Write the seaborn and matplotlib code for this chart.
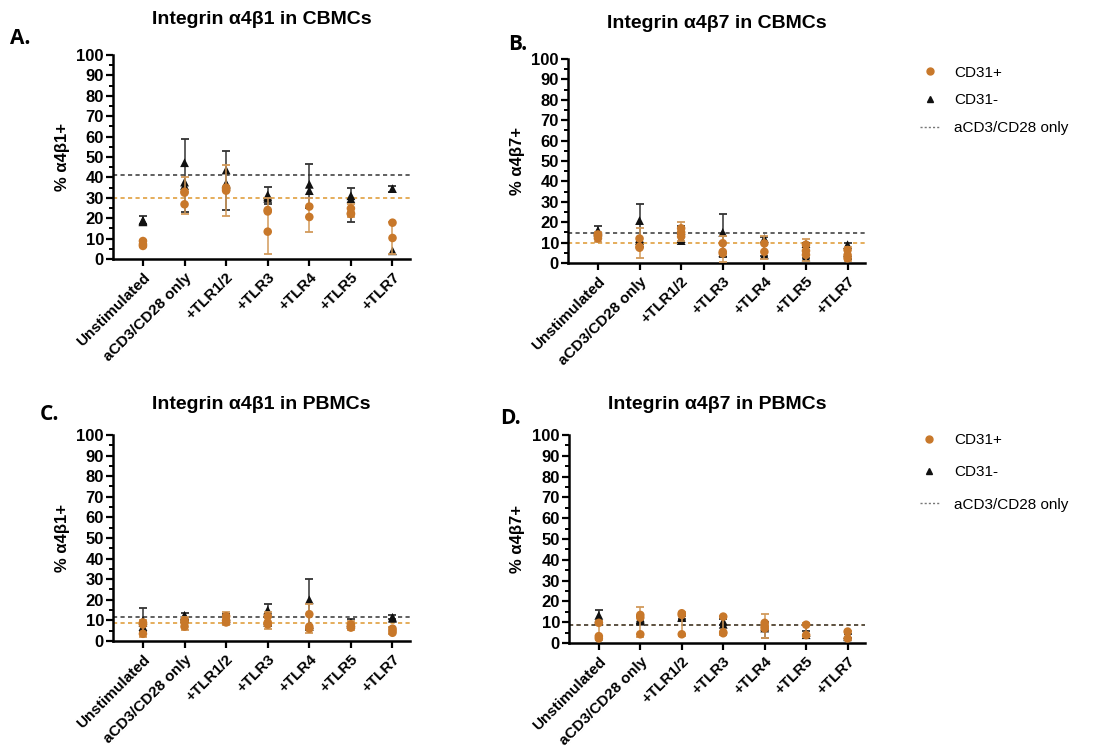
import numpy as np
import pandas as pd
import matplotlib
matplotlib.use('Agg')
import matplotlib.pyplot as plt
from matplotlib.lines import Line2D
from matplotlib.ticker import MultipleLocator
import seaborn as sns

categories = ['Unstimulated', 'aCD3/CD28 only', '+TLR1/2', '+TLR3', '+TLR4', '+TLR5', '+TLR7']

# A: integrin a4b1 in CBMCs
a_pos_pts = [[8.8, 6.4, 7.2], [33, 32.5, 26.8], [35, 33.5, 34], [24, 23.3, 13.4], [25.7, 20.6], [24.8, 22.4, 22], [17.8, 10.3]]
a_pos_lo = [6, 22, 21, 2.5, 13, 20.5, 2.5]
a_pos_hi = [9.5, 40, 46, 30, 30, 27, 18]
a_neg_pts = [[18.6, 19, 18.2], [47.2, 37.7, 36], [43.6, 37.1, 36.5], [31.4, 29.7, 30.5], [36.6, 33.5], [31, 29.5], [34.5, 4]]
a_neg_lo = [17, 23, 24, 27, 25, 18, 33]
a_neg_hi = [21, 59, 53, 35.5, 46.5, 35, 36]
a_ref = [29.8, 41.2]

# B: integrin a4b7 in CBMCs
b_pos_pts = [[13.4, 12.1, 14], [12, 8, 7.5], [17, 15, 13], [9.7, 5.5, 4.7], [9.6, 5.5], [9, 6, 4], [6.4, 3.9, 2.3]]
b_pos_lo = [10.5, 2.6, 11, 0.6, 1.8, 1, 1]
b_pos_hi = [15, 17, 20, 13, 13, 11.6, 8]
b_neg_pts = [[15.4, 16, 15], [20.8, 12, 11], [11, 12, 16], [15, 5], [12, 4], [9.5, 3], [5, 9]]
b_neg_lo = [14, 8, 10.5, 3, 3.5, 2.3, 2]
b_neg_hi = [18, 29, 18, 24, 12.6, 10, 10]
b_ref = [9.6, 14.9]

# C: integrin a4b1 in PBMCs
c_pos_pts = [[3.5, 8, 9], [7, 9, 10], [9, 10, 12], [12, 8, 9], [13, 7, 6], [8, 7, 6.5], [6, 5, 4]]
c_pos_lo = [2, 5.5, 8, 6, 4, 5.5, 3.5]
c_pos_hi = [10, 11.5, 14, 14, 18, 9.5, 7]
c_neg_pts = [[10, 9, 7], [12, 11, 12.5], [11, 10, 12], [15, 9, 10], [20, 7, 8], [9, 8], [11.5, 11]]
c_neg_lo = [5, 10, 9, 8, 6, 7.5, 10.5]
c_neg_hi = [16, 13.5, 13, 18, 30, 10.5, 12.5]
c_ref = [8.7, 11.8]

# D: integrin a4b7 in PBMCs
d_pos_pts = [[9.7, 3.3, 2.2], [13.5, 12.2, 4.2], [14.3, 13.5, 4.2], [12.7, 5.2, 4.7], [9.7, 8, 7], [8.8, 3.8], [5.5, 2.2]]
d_pos_lo = [1.5, 3, 3.5, 4, 2.2, 3, 1.5]
d_pos_hi = [10.5, 17.2, 15, 13, 13.8, 9.5, 6]
d_neg_pts = [[13.3, 11, 12], [11.3, 10.5, 12], [12.2, 12.5], [10.5, 9], [7.2, 8], [5, 4], [3, 4]]
d_neg_lo = [10.5, 9, 11.5, 8.5, 2.5, 3.5, 2.5]
d_neg_hi = [15.8, 13, 13, 11.5, 10, 6, 4.5]
d_ref = [8.5, 8.5]

ORANGE = '#C8782A'
ORANGE_ERR = '#D29A5A'
BLACK = '#111111'

sns.set_theme(style='ticks')
plt.rcParams['font.family'] = ['Liberation Sans', 'DejaVu Sans']
plt.rcParams['text.color'] = 'black'
plt.rcParams['axes.labelcolor'] = 'black'
plt.rcParams['xtick.color'] = 'black'
plt.rcParams['ytick.color'] = 'black'


def long_df(pts, group):
    rows = []
    for cat, vals in zip(categories, pts):
        for v in vals:
            rows.append((cat, group, v))
    df = pd.DataFrame(rows, columns=['stim', 'group', 'pct'])
    df['xpos'] = pd.Categorical(df['stim'], categories=categories).codes
    return df


def draw_panel(ax, pos_pts, pos_lo, pos_hi, neg_pts, neg_lo, neg_hi, ref, title, ylabel, pad):
    xpos = np.arange(len(categories))
    ax.axhline(ref[0], color='#E0A040', ls=(0, (2.5, 2)), lw=1.2, zorder=1)
    ax.axhline(ref[1], color='#444444', ls=(0, (2.5, 2)), lw=1.2, zorder=1)

    lo, hi = np.array(neg_lo), np.array(neg_hi)
    ax.errorbar(xpos, (lo + hi) / 2, yerr=(hi - lo) / 2, fmt='none', ecolor='#333333',
                elinewidth=1.1, capsize=3, capthick=1.3, zorder=2)
    sns.scatterplot(data=long_df(neg_pts, 'CD31-'), x='xpos', y='pct', marker='^',
                    color=BLACK, s=40, edgecolor='none', ax=ax, zorder=3, clip_on=False)

    lo, hi = np.array(pos_lo), np.array(pos_hi)
    ax.errorbar(xpos, (lo + hi) / 2, yerr=(hi - lo) / 2, fmt='none', ecolor=ORANGE_ERR,
                elinewidth=1.1, capsize=3, capthick=1.3, zorder=4)
    sns.scatterplot(data=long_df(pos_pts, 'CD31+'), x='xpos', y='pct', marker='o',
                    color=ORANGE, s=38, edgecolor='none', ax=ax, zorder=5, clip_on=False)

    ax.set_xlim(-0.72, 6.42)
    ax.set_ylim(0, 100)
    ax.set_xticks(xpos)
    ax.set_xticklabels(categories, rotation=45, ha='right', rotation_mode='anchor',
                       fontweight='bold', fontsize=11)
    ax.set_yticks(range(0, 101, 10))
    ax.yaxis.set_minor_locator(MultipleLocator(5))
    for lab in ax.get_yticklabels():
        lab.set_fontweight('bold')
        lab.set_fontsize(12)
    ax.tick_params(axis='both', which='major', length=5, width=1.6, color='black', pad=1.5)
    ax.tick_params(axis='y', which='minor', length=3, width=1.4, color='black')
    ax.tick_params(axis='x', which='major', pad=3)
    sns.despine(ax=ax)
    for side in ['left', 'bottom']:
        ax.spines[side].set_linewidth(1.8)
        ax.spines[side].set_color('black')
    ax.set_xlabel('')
    ax.set_ylabel(ylabel, fontweight='bold', fontsize=12, labelpad=5)
    ax.set_title(title, fontweight='bold', fontsize=14, pad=pad)


fig = plt.figure(figsize=(10.95, 7.47), dpi=100)
axA = fig.add_axes([0.1032, 0.6533, 0.2712, 0.2731])
axB = fig.add_axes([0.5187, 0.6479, 0.2713, 0.2731])
axC = fig.add_axes([0.1032, 0.1419, 0.2712, 0.2758])
axD = fig.add_axes([0.5196, 0.1392, 0.2704, 0.2785])

draw_panel(axA, a_pos_pts, a_pos_lo, a_pos_hi, a_neg_pts, a_neg_lo, a_neg_hi, a_ref,
           'Integrin α4β1 in CBMCs', '% α4β1+', 22)
draw_panel(axB, b_pos_pts, b_pos_lo, b_pos_hi, b_neg_pts, b_neg_lo, b_neg_hi, b_ref,
           'Integrin α4β7 in CBMCs', '% α4β7+', 22)
draw_panel(axC, c_pos_pts, c_pos_lo, c_pos_hi, c_neg_pts, c_neg_lo, c_neg_hi, c_ref,
           'Integrin α4β1 in PBMCs', '% α4β1+', 19)
draw_panel(axD, d_pos_pts, d_pos_lo, d_pos_hi, d_neg_pts, d_neg_lo, d_neg_hi, d_ref,
           'Integrin α4β7 in PBMCs', '% α4β7+', 19)

letter_font = ['Open Sans', 'DejaVu Sans']
fig.text(10 / 1095, 1 - 44 / 747, 'A.', fontsize=15, fontweight='bold', family=letter_font)
fig.text(508 / 1095, 1 - 50 / 747, 'B.', fontsize=15, fontweight='bold', family=letter_font)
fig.text(40 / 1095, 1 - 420 / 747, 'C.', fontsize=15, fontweight='bold', family=letter_font)
fig.text(500 / 1095, 1 - 424 / 747, 'D.', fontsize=15, fontweight='bold', family=letter_font)

handles = [
    Line2D([], [], marker='o', color=ORANGE, ls='none', markersize=5),
    Line2D([], [], marker='^', color=BLACK, ls='none', markersize=5),
    Line2D([], [], color='#777777', ls=(0, (1.5, 1.5)), lw=1),
]
labels = ['CD31+', 'CD31-', 'aCD3/CD28 only']
axB.legend(handles, labels, loc='upper left', bbox_to_anchor=(1.14, 1.035), frameon=False,
           fontsize=11, handlelength=1.2, handletextpad=1.0, labelspacing=0.9)
axD.legend(handles, labels, loc='upper left', bbox_to_anchor=(1.14, 1.075), frameon=False,
           fontsize=11, handlelength=1.2, handletextpad=1.0, labelspacing=1.2)

fig.savefig('out.png', dpi=100)
